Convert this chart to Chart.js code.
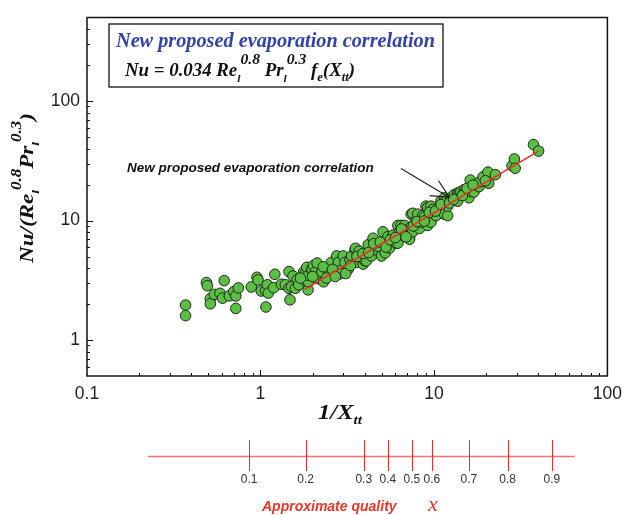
<!DOCTYPE html>
<html>
<head>
<meta charset="utf-8">
<script src="https://cdn.jsdelivr.net/npm/chart.js@4.4.0/dist/chart.umd.min.js"></script>
<style>
  html, body { margin: 0; padding: 0; background: #fff; }
</style>
</head>
<body>
<canvas id="myChart" width="630" height="515"></canvas>
<script>
// measured points: 1/Xtt and Nu/(Re^0.8 Pr^0.3)
const invXtt = [0.37, 0.37, 0.488, 0.494, 0.514, 0.514, 0.542, 0.585, 0.604, 0.618, 0.661, 0.702, 0.721, 0.721, 0.746,
  0.885, 0.955, 0.968, 1.01, 1.07, 1.075, 1.096, 1.11, 1.19, 1.21, 1.32, 1.39, 1.46, 1.46, 1.48, 1.51, 1.54, 1.59, 1.63,
  1.66, 1.77, 1.81, 1.81, 1.85, 1.88, 1.89, 1.89, 1.98, 1.98, 2.02, 2.07, 2.12, 2.16, 2.26, 2.31, 2.47, 2.56, 2.75, 2.81,
  2.88, 2.88, 3.0, 3.07, 3.21, 3.28, 3.35, 3.51, 3.53, 3.58, 3.70, 3.82, 3.91, 4.0, 4.08, 4.18, 4.36, 4.46, 4.56, 4.76,
  4.98, 5.09, 5.2, 5.25, 5.43, 5.56, 5.80, 6.06, 6.2, 6.2, 6.34, 6.47, 6.62, 6.77, 6.92, 7.07, 7.23, 7.23, 7.39, 7.39,
  7.55, 7.55, 7.89, 8.07, 8.25, 8.43, 8.62, 8.81, 9.0, 9.2, 9.2, 9.2, 9.61, 9.61, 9.84, 10.05, 10.3, 10.5, 10.96, 10.96,
  11.5, 11.5, 11.7, 12.0, 12.0, 12.5, 13.1, 13.7, 13.7, 14.0, 14.3, 14.9, 15.2, 15.9, 16.2, 16.3, 17.0, 17.0, 18.2, 18.4,
  19.2, 20.5, 20.7, 22.6, 28.2, 29.1, 29.4, 37.5, 40.1,
  1.7, 2.0, 2.3, 2.4, 2.6, 2.7, 3.1, 3.3, 3.6, 3.9, 4.2, 4.5, 4.9, 5.3, 5.6, 6.0, 6.5, 6.9, 7.6, 8.0, 8.8, 9.4,
  10.2, 11.0, 12.3, 13.0, 14.6, 15.5, 16.8, 19.8];
const nuRatio = [1.96, 1.60, 3.03, 2.85, 2.22, 2.01, 2.41, 2.46, 2.24, 3.14, 2.34, 2.54, 2.34, 1.84, 2.73,
  2.78, 3.35, 3.18, 2.57, 2.58, 1.89, 2.90, 2.47, 2.74, 3.55, 2.93, 2.90, 3.74, 2.71, 2.17, 2.79, 3.43, 2.71, 3.21,
  2.90, 3.70, 3.14, 3.58, 4.06, 2.63, 3.07, 3.48, 3.82, 3.93, 4.21, 3.70, 4.41, 3.26, 3.70, 3.07, 3.58, 4.46, 5.05, 4.46,
  3.82, 3.58, 5.05, 4.46, 3.93, 4.74, 5.05, 5.71, 5.86, 4.46, 5.54, 4.89, 4.32, 4.60, 4.60, 6.27, 5.05, 7.11, 5.71, 6.08,
  5.05, 8.05, 6.47, 5.37, 7.33, 5.89, 7.55, 6.47, 9.1, 6.47, 8.05, 9.1, 7.55, 9.1, 8.30, 7.80, 7.11, 6.97, 8.84, 11.3,
  8.05, 11.5, 10.0, 11.3, 8.57, 9.7, 11.0, 10.7, 13.2, 9.4, 12.8, 9.1, 13.2, 9.7, 12.4, 11.3, 11.0, 12.4, 12.8, 14.5,
  11.3, 15.5, 14.5, 11.0, 13.2, 15.5, 16.5, 17.0, 14.5, 17.0, 17.5, 18.1, 17.7, 15.5, 21.8, 17.5, 18.7, 17.3, 19.2, 21.1,
  23.2, 25.4, 20.5, 24.2, 28.8, 32.7, 27.4, 43.2, 38.1,
  3.3, 3.4, 4.1, 3.3, 3.9, 3.4, 3.6, 4.2, 5.0, 5.3, 5.4, 6.4, 6.6, 6.0, 6.9, 7.2, 8.5, 7.3, 9.0, 9.8, 9.9, 11.7,
  12.0, 13.6, 14.0, 15.0, 16.2, 18.6, 19.8, 21.5];

// correlation line
const fitX = [1.8, 40.1];
const fitY = [2.66, 38.1];

const xTicks = [0.1, 1, 10, 100];
const yTicks = [1, 10, 100];

// approximate quality scale, placed at the 1/Xtt it corresponds to
const qualityLabels = ['0.1', '0.2', '0.3', '0.4', '0.5', '0.6', '0.7', '0.8', '0.9'];
const qualityAt = [0.86, 1.82, 3.94, 5.43, 7.46, 9.73, 15.9, 26.6, 47.9];
const qualitySpan = [0.225, 64.7];

const serif = "'Liberation Serif', 'Times New Roman', serif";
const sans = "'Liberation Sans', Arial, sans-serif";

function richWidth(ctx, parts) {
    let w = 0;
    parts.forEach(p => {
        ctx.font = 'italic bold ' + p[1] + 'px ' + serif;
        w += ctx.measureText(p[0]).width;
    });
    return w;
}

// draws text pieces with sub/superscripts, squeezed to width fitW
function drawRich(ctx, x, y, parts, fitW) {
    const w = richWidth(ctx, parts);
    const sx = fitW ? fitW / w : 1;
    ctx.save();
    ctx.translate(x, y);
    ctx.scale(sx, 1);
    ctx.textBaseline = 'alphabetic';
    ctx.textAlign = 'left';
    let cx = 0;
    parts.forEach(p => {
        ctx.font = 'italic bold ' + p[1] + 'px ' + serif;
        ctx.fillText(p[0], cx, p[2]);
        cx += ctx.measureText(p[0]).width;
    });
    ctx.restore();
}

const decor = {
    id: 'decor',
    afterDraw(chart) {
        const ctx = chart.ctx;
        const xs = chart.scales.x, ys = chart.scales.y;
        const a = chart.chartArea;

        ctx.save();
        // frame
        ctx.strokeStyle = '#111';
        ctx.lineWidth = 1.5;
        ctx.strokeRect(a.left, a.top, a.right - a.left, a.bottom - a.top);

        // inward ticks
        ctx.lineWidth = 1;
        ctx.beginPath();
        [0.1, 1, 10].forEach(d => {
            for (let m = 1; m <= 9; m++) {
                const v = d * m;
                if (v <= xs.min || v >= xs.max) continue;
                const px = Math.round(xs.getPixelForValue(v)) + 0.5;
                const len = m === 1 ? 6 : 3;
                ctx.moveTo(px, a.bottom);
                ctx.lineTo(px, a.bottom - len);
            }
        });
        [0.1, 1, 10, 100].forEach(d => {
            for (let m = 1; m <= 9; m++) {
                const v = d * m;
                if (v <= ys.min || v >= ys.max) continue;
                const py = Math.round(ys.getPixelForValue(v)) + 0.5;
                const len = m === 1 ? 6 : 3;
                ctx.moveTo(a.left, py);
                ctx.lineTo(a.left + len, py);
            }
        });
        ctx.stroke();

        // legend box
        ctx.fillStyle = '#fff';
        ctx.fillRect(109, 24, 334, 63);
        ctx.strokeStyle = '#111';
        ctx.lineWidth = 1.3;
        ctx.strokeRect(109, 24, 334, 63);
        ctx.fillStyle = '#3343a6';
        drawRich(ctx, 116, 47, [['New proposed evaporation correlation', 20, 0]], 319);
        ctx.fillStyle = '#111';
        drawRich(ctx, 125, 76, [
            ['Nu = 0.034 Re', 18, 0], ['l', 11, 6], ['0.8', 15, -12], [' Pr', 18, 0], ['l', 11, 6],
            ['0.3', 15, -12], [' f', 18, 0], ['e', 12, 5], ['(X', 18, 0], ['tt', 12, 5], [')', 18, 0]
        ], 230);

        // annotation with arrow
        const tx = xs.getPixelForValue(0.17), ty = ys.getPixelForValue(27.3);
        ctx.font = 'italic bold 13.5px ' + sans;
        ctx.fillStyle = '#111';
        ctx.textBaseline = 'middle';
        ctx.textAlign = 'left';
        ctx.fillText('New proposed evaporation correlation', tx, ty);
        const ax = xs.getPixelForValue(6.45), ay = ys.getPixelForValue(27.3);
        const hx = xs.getPixelForValue(12.3), hy = ys.getPixelForValue(15.6);
        ctx.strokeStyle = '#222';
        ctx.lineWidth = 1.2;
        ctx.beginPath();
        ctx.moveTo(ax, ay);
        ctx.lineTo(hx, hy);
        const ang = Math.atan2(hy - ay, hx - ax);
        [0.45, -0.45].forEach(off => {
            ctx.moveTo(hx, hy);
            ctx.lineTo(hx - 20 * Math.cos(ang + off), hy - 20 * Math.sin(ang + off));
        });
        ctx.stroke();

        // axis titles
        ctx.fillStyle = '#111';
        drawRich(ctx, 318, 419, [['1/X', 21, 0], ['tt', 13, 5]], 44);
        ctx.save();
        ctx.translate(33, 188);
        ctx.rotate(-Math.PI / 2);
        const yParts = [['Nu/(Re', 19, 0], ['l', 11, 6], ['0.8', 14, -12], ['Pr', 19, 0], ['l', 11, 6], ['0.3', 14, -12], [')', 19, 0]];
        drawRich(ctx, -75, 0, yParts, 150);
        ctx.restore();

        // approximate quality scale
        const lineY = 456.5;
        ctx.strokeStyle = 'rgba(232, 70, 60, 0.75)';
        ctx.lineWidth = 1.6;
        ctx.beginPath();
        ctx.moveTo(xs.getPixelForValue(qualitySpan[0]), lineY);
        ctx.lineTo(xs.getPixelForValue(qualitySpan[1]), lineY);
        ctx.stroke();
        ctx.strokeStyle = '#e0302a';
        ctx.lineWidth = 1;
        ctx.beginPath();
        qualityAt.forEach(v => {
            const px = Math.round(xs.getPixelForValue(v)) + 0.5;
            ctx.moveTo(px, 440);
            ctx.lineTo(px, 471);
        });
        ctx.stroke();
        ctx.fillStyle = '#333';
        ctx.font = '12px ' + sans;
        ctx.textAlign = 'center';
        ctx.textBaseline = 'middle';
        qualityLabels.forEach((t, i) => {
            ctx.fillText(t, xs.getPixelForValue(qualityAt[i]), 479.5);
        });
        ctx.fillStyle = '#e8352b';
        ctx.textAlign = 'left';
        ctx.textBaseline = 'alphabetic';
        ctx.font = 'italic bold 14px ' + sans;
        ctx.fillText('Approximate quality', 262, 511);
        ctx.font = 'italic 22px ' + serif;
        ctx.fillText('x', 428, 511);

        ctx.restore();
    }
};

const points = invXtt.map((v, i) => ({ x: v, y: nuRatio[i] }));
const fitLine = fitX.map((v, i) => ({ x: v, y: fitY[i] }));

const ctx = document.getElementById('myChart').getContext('2d');
const myChart = new Chart(ctx, {
    type: 'scatter',
    data: {
        datasets: [{
            type: 'line',
            data: fitLine,
            borderColor: '#e5322a',
            borderWidth: 1.6,
            pointRadius: 0,
            fill: false,
            order: 0
        }, {
            data: points,
            backgroundColor: '#5cbf45',
            borderColor: '#1d2a16',
            borderWidth: 1,
            pointRadius: 5.3,
            order: 1
        }]
    },
    options: {
        responsive: false,
        animation: false,
        events: [],
        layout: { padding: { top: 9, right: 19, left: 0, bottom: 0 } },
        plugins: { legend: { display: false }, tooltip: { enabled: false } },
        scales: {
            x: {
                type: 'logarithmic',
                min: 0.1,
                max: 100,
                grid: { display: false, drawTicks: false },
                border: { display: false },
                afterBuildTicks: s => { s.ticks = xTicks.map(v => ({ value: v })); },
                afterFit: s => { s.height = 139; },
                ticks: {
                    autoSkip: false,
                    maxRotation: 0,
                    padding: 8,
                    color: '#222',
                    font: { family: sans, size: 17.5 },
                    callback: v => String(v)
                }
            },
            y: {
                type: 'logarithmic',
                min: 0.5,
                max: 500,
                grid: { display: false, drawTicks: false },
                border: { display: false },
                afterBuildTicks: s => { s.ticks = yTicks.map(v => ({ value: v })); },
                afterFit: s => { s.width = 87; },
                ticks: {
                    autoSkip: false,
                    padding: 7,
                    color: '#222',
                    font: { family: sans, size: 17.5 },
                    callback: v => String(v)
                }
            }
        }
    },
    plugins: [decor]
});
</script>
</body>
</html>
